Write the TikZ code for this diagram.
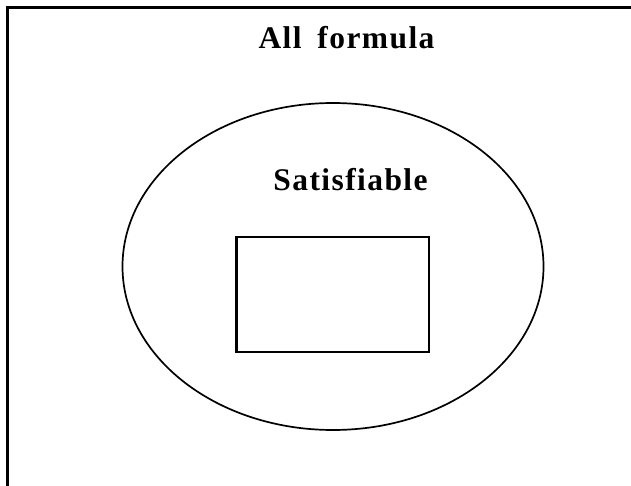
\documentclass[tikz,border=0pt]{standalone}
\usepackage{fontspec}
\setmainfont{Liberation Serif}
\newfontfamily\labelfont[LetterSpace=4.5]{Liberation Serif}
\usetikzlibrary{shapes.geometric}
\tikzset{
  frame/.style={line width=2.4pt},
  setshape/.style={draw, ellipse, line width=1.7pt, inner sep=0pt, minimum width=421pt, minimum height=327pt},
  innerbox/.style={draw, rectangle, line width=2.2pt, inner sep=0pt, minimum width=192.5pt, minimum height=115pt},
  lbl/.style={font=\labelfont\bfseries\fontsize{31.5pt}{36pt}\selectfont, anchor=base, inner sep=0pt}
}
\begin{document}
\begin{tikzpicture}[x=1pt,y=-1pt]
\useasboundingbox (0,0) rectangle (631,486);
\clip (0,0) rectangle (631,486);
\draw[frame] (7.3,7.5) rectangle (660,520);
\node[setshape] (sat) at (333,266.5) {};
\node[innerbox] (box) at (332.75,294.5) {};
\node[lbl] (all) at (346.5,49) {All\hspace{0.5em}formula};
\node[lbl] (satlbl) at (350.5,191) {Satisfiable};
\end{tikzpicture}
\end{document}
